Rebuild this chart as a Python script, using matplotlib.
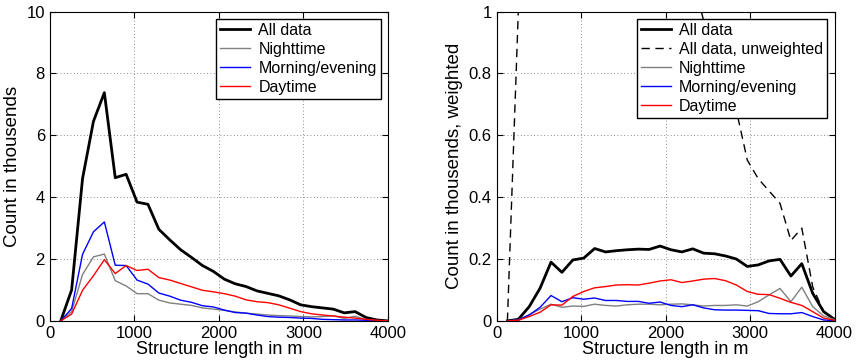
import numpy as np
import matplotlib
matplotlib.use("Agg")
import matplotlib.pyplot as plt

plt.rcParams['font.family'] = ['Liberation Sans', 'DejaVu Sans']

# bin positions (structure length in m)
lengths = np.linspace(4000 / 31, 4000, 31)

# counts in thousands
all_data = [0, 1.0, 4.6, 6.45, 7.38, 4.63, 4.74, 3.84, 3.77, 2.96, 2.62, 2.3, 2.05, 1.79, 1.6, 1.35,
            1.2, 1.11, 0.97, 0.89, 0.81, 0.68, 0.52, 0.46, 0.42, 0.38, 0.26, 0.3, 0.11, 0.03, 0.0]
night = [0, 0.3, 1.5, 2.07, 2.16, 1.3, 1.13, 0.88, 0.88, 0.67, 0.58, 0.54, 0.5, 0.42, 0.38, 0.34,
         0.29, 0.25, 0.22, 0.19, 0.17, 0.16, 0.14, 0.13, 0.14, 0.16, 0.08, 0.15, 0.04, 0.01, 0.0]
morning = [0, 0.4, 2.15, 2.88, 3.2, 1.8, 1.79, 1.32, 1.19, 0.9, 0.8, 0.67, 0.6, 0.49, 0.45, 0.35,
           0.27, 0.25, 0.19, 0.14, 0.12, 0.11, 0.09, 0.08, 0.05, 0.04, 0.03, 0.03, 0.02, 0.01, 0.0]
day = [0, 0.22, 0.99, 1.46, 1.98, 1.53, 1.79, 1.63, 1.67, 1.4, 1.32, 1.21, 1.1, 0.99, 0.94, 0.88,
       0.8, 0.68, 0.62, 0.59, 0.52, 0.41, 0.3, 0.23, 0.19, 0.16, 0.12, 0.09, 0.05, 0.02, 0.0]

# weighted counts in thousands
all_w = [0, 0.005, 0.046, 0.106, 0.19, 0.157, 0.197, 0.203, 0.234, 0.223, 0.227, 0.23, 0.232, 0.231,
         0.242, 0.23, 0.223, 0.233, 0.219, 0.217, 0.21, 0.2, 0.176, 0.181, 0.194, 0.199, 0.145,
         0.185, 0.089, 0.03, 0.005]
night_w = [0, 0.003, 0.02, 0.038, 0.054, 0.044, 0.048, 0.047, 0.054, 0.05, 0.048, 0.052, 0.054, 0.054,
           0.052, 0.054, 0.055, 0.052, 0.048, 0.05, 0.05, 0.052, 0.048, 0.062, 0.084, 0.105, 0.062,
           0.109, 0.046, 0.016, 0.004]
morning_w = [0, 0.003, 0.019, 0.044, 0.082, 0.062, 0.075, 0.07, 0.074, 0.066, 0.066, 0.063, 0.063,
             0.057, 0.061, 0.05, 0.046, 0.052, 0.042, 0.036, 0.035, 0.035, 0.034, 0.033, 0.024,
             0.023, 0.023, 0.027, 0.014, 0.003, 0.001]
day_w = [0, 0.002, 0.014, 0.028, 0.052, 0.051, 0.079, 0.095, 0.107, 0.111, 0.116, 0.117, 0.116, 0.122,
         0.129, 0.133, 0.124, 0.129, 0.135, 0.137, 0.13, 0.116, 0.095, 0.086, 0.085, 0.073, 0.06,
         0.05, 0.03, 0.009, 0.002]

fig = plt.figure(figsize=(8.59, 3.63), dpi=100)
ax1 = fig.add_axes([0.058, 0.116, 0.3935, 0.852])
ax2 = fig.add_axes([0.578, 0.116, 0.3935, 0.852])

def style(ax):
    ax.set_xlim(0, 4000)
    ax.set_xticks([0, 1000, 2000, 3000, 4000])
    ax.grid(True, linestyle=(0, (1, 3)), color='#666666', linewidth=0.6)
    ax.tick_params(direction='in', labelsize=12, length=4, top=True, right=True,
                   labeltop=False, labelright=False)
    for s in ax.spines.values():
        s.set_linewidth(0.8)
    ax.set_xlabel("Structure length in m", fontsize=13, labelpad=0)

ax1.plot(lengths, all_data, color='black', lw=2, label="All data")
ax1.plot(lengths, night, color='#808080', lw=1, label="Nighttime")
ax1.plot(lengths, morning, color='blue', lw=1, label="Morning/evening")
ax1.plot(lengths, day, color='red', lw=1, label="Daytime")
ax1.set_ylim(0, 10)
ax1.set_yticks([0, 2, 4, 6, 8, 10])
ax1.set_ylabel("Count in thousends", fontsize=13.5, labelpad=4)
style(ax1)

ax2.plot(lengths, all_w, color='black', lw=2, label="All data")
ax2.plot(lengths, all_data, color='black', lw=1, ls=(0, (6, 4)), label="All data, unweighted")
ax2.plot(lengths, night_w, color='#808080', lw=1, label="Nighttime")
ax2.plot(lengths, morning_w, color='blue', lw=1, label="Morning/evening")
ax2.plot(lengths, day_w, color='red', lw=1, label="Daytime")
ax2.set_ylim(0, 1)
ax2.set_yticks([0, 0.2, 0.4, 0.6, 0.8, 1])
ax2.set_yticklabels(["0", "0.2", "0.4", "0.6", "0.8", "1"])
ax2.set_ylabel("Count in thousends, weighted", fontsize=13.5, labelpad=4)
style(ax2)

for ax in (ax1, ax2):
    leg = ax.legend(loc='upper right', fontsize=11.5, fancybox=False, framealpha=1,
                    edgecolor='black', handlelength=1.9, borderaxespad=0.45,
                    labelspacing=0.25, handletextpad=0.5, borderpad=0.25)
    leg.get_frame().set_linewidth(1.0)

fig.savefig("out.png", dpi=100)
